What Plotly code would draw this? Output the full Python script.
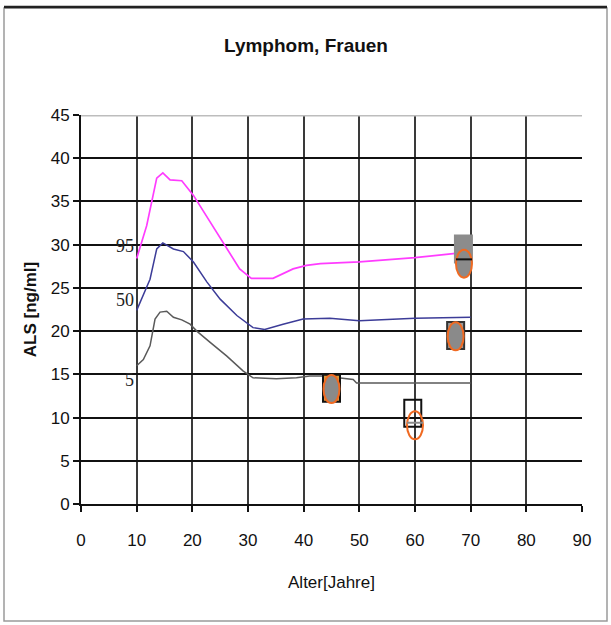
import plotly.graph_objects as go

# Percentile curves of ALS by age (women, lymphoma reference)
age_p95 = [10, 11.8, 13.6, 14.7, 16, 18.1, 20.2, 23.2, 26.2, 28.5, 30.6, 34.5, 38.1, 40.5, 43, 50, 60, 69]
als_p95 = [28.4, 32.2, 37.7, 38.3, 37.5, 37.4, 35.7, 32.6, 29.5, 27.2, 26.1, 26.1, 27.2, 27.6, 27.8, 28.0, 28.5, 29.1]

age_p50 = [10, 11.2, 12.4, 13.6, 14.7, 16.6, 18.4, 20.2, 22.6, 25, 28, 30.9, 33, 36.3, 39.9, 44.7, 50, 60, 70]
als_p50 = [22.4, 24.1, 26.0, 29.5, 30.2, 29.5, 29.2, 28.0, 25.7, 23.7, 21.8, 20.4, 20.2, 20.8, 21.4, 21.5, 21.2, 21.5, 21.6]

age_p5 = [10, 11.2, 12.4, 13.3, 14.2, 15.4, 16.6, 18.1, 19.6, 20.8, 23.2, 26.2, 29.1, 30.9, 35.1, 38.7, 41.1, 43.5, 48.9, 49.5, 70]
als_p5 = [16.0, 16.7, 18.3, 21.4, 22.2, 22.3, 21.6, 21.3, 20.8, 20.0, 18.7, 17.1, 15.4, 14.6, 14.5, 14.6, 14.8, 14.8, 14.4, 14.0, 14.0]

# Patient measurements
square_age = [45, 59.6, 67.3, 68.7]
square_als = [13.4, 10.5, 19.5, 29.5]
square_fill = ["#d89a3a", "rgba(0,0,0,0)", "#9a9a9a", "#8c8c8c"]
square_line = ["#111111", "#111111", "#333333", "#8c8c8c"]

circle_age = [45, 60, 67.3, 68.8]
circle_als = [13.3, 9.1, 19.4, 27.8]
circle_fill = ["#8a8a8a", "rgba(0,0,0,0)", "#8a8a8a", "#8a8a8a"]

dash_age = [60, 68.8]
dash_als = [9.4, 28.3]
dash_color = ["#8a8a8a", "#111111"]

curve_labels = ["95", "50", "5"]
label_als = [29.8, 23.6, 14.4]

x_ticks = list(range(0, 91, 10))
y_ticks = list(range(0, 46, 5))

SANS = "Liberation Sans, Arial, sans-serif"
SERIF = "Liberation Serif, Times New Roman, serif"

fig = go.Figure()

fig.add_trace(go.Scatter(x=age_p95, y=als_p95, mode="lines",
                         line=dict(color="#ff3cff", width=1.7), showlegend=False))
fig.add_trace(go.Scatter(x=age_p50, y=als_p50, mode="lines",
                         line=dict(color="#3c3c98", width=1.5), showlegend=False))
fig.add_trace(go.Scatter(x=age_p5, y=als_p5, mode="lines",
                         line=dict(color="#5a5a5a", width=1.5), showlegend=False))

shapes = []
# rectangular markers
for xa, ya, fc, lc in zip(square_age, square_als, square_fill, square_line):
    shapes.append(dict(type="rect", xref="x", yref="y", xsizemode="pixel", ysizemode="pixel",
                       xanchor=xa, yanchor=ya, x0=-8.5, x1=8.5, y0=-13.5, y1=13.5,
                       fillcolor=fc, line=dict(color=lc, width=2), layer="above"))
# elliptical markers
for xa, ya, fc in zip(circle_age, circle_als, circle_fill):
    shapes.append(dict(type="circle", xref="x", yref="y", xsizemode="pixel", ysizemode="pixel",
                       xanchor=xa, yanchor=ya, x0=-8, x1=8, y0=-14, y1=14,
                       fillcolor=fc, line=dict(color="#f06a22", width=2), layer="above"))
# dash markers
for xa, ya, c in zip(dash_age, dash_als, dash_color):
    shapes.append(dict(type="line", xref="x", yref="y", xsizemode="pixel", ysizemode="pixel",
                       xanchor=xa, yanchor=ya, x0=-8, x1=8, y0=0, y1=0,
                       line=dict(color=c, width=2), layer="above"))

# light top edge of plot area
shapes.append(dict(type="line", xref="paper", yref="y", x0=0, x1=1, y0=45, y1=45,
                   line=dict(color="#bdbdbd", width=3), layer="above"))
# chart frame
shapes.append(dict(type="rect", xref="paper", yref="paper",
                   x0=(4 - 81) / 501, x1=(607 - 81) / 501,
                   y0=(504 - 621) / 389, y1=(504 - 8) / 389,
                   line=dict(color="#9a9a9a", width=1.5), fillcolor="rgba(0,0,0,0)", layer="below"))
shapes.append(dict(type="line", xref="paper", yref="paper",
                   x0=(4 - 81) / 501, x1=(607 - 81) / 501,
                   y0=(504 - 7) / 389, y1=(504 - 7) / 389,
                   line=dict(color="#222222", width=2.5)))

annotations = []
for lab, ya in zip(curve_labels, label_als):
    annotations.append(dict(x=10, y=ya, xref="x", yref="y", text=lab, showarrow=False,
                            xanchor="right", yanchor="middle", xshift=-1,
                            font=dict(family=SERIF, size=18, color="#222222")))

fig.update_layout(
    width=611, height=625,
    margin=dict(l=81, r=29, t=115, b=121),
    paper_bgcolor="white", plot_bgcolor="white",
    title=dict(text="<b>Lymphom, Frauen</b>", x=306 / 611, xanchor="center",
               y=1 - 45 / 625, yanchor="middle",
               font=dict(family=SANS, size=19, color="#111111")),
    shapes=shapes, annotations=annotations,
    xaxis=dict(range=[0, 90], tickvals=x_ticks, showgrid=True, gridcolor="#3a3a3a", gridwidth=1.6,
               zeroline=False, showline=True, linecolor="#111111", linewidth=2,
               ticks="outside", ticklen=6, tickcolor="#111111", tickwidth=1.5,
               ticklabelstandoff=14,
               tickfont=dict(family=SANS, size=17, color="#111111"),
               title=dict(text="Alter[Jahre]", standoff=27,
                          font=dict(family=SANS, size=17, color="#111111"))),
    yaxis=dict(range=[0, 45], tickvals=y_ticks, showgrid=True, gridcolor="#111111", gridwidth=2,
               zeroline=False, showline=True, linecolor="#111111", linewidth=2,
               ticks="outside", ticklen=6, tickcolor="#111111", tickwidth=1.5,
               tickfont=dict(family=SANS, size=17, color="#111111"),
               title=dict(text="<b>ALS [ng/ml]</b>", standoff=10,
                          font=dict(family=SANS, size=17, color="#111111"))),
)

fig.write_html("out.html")
